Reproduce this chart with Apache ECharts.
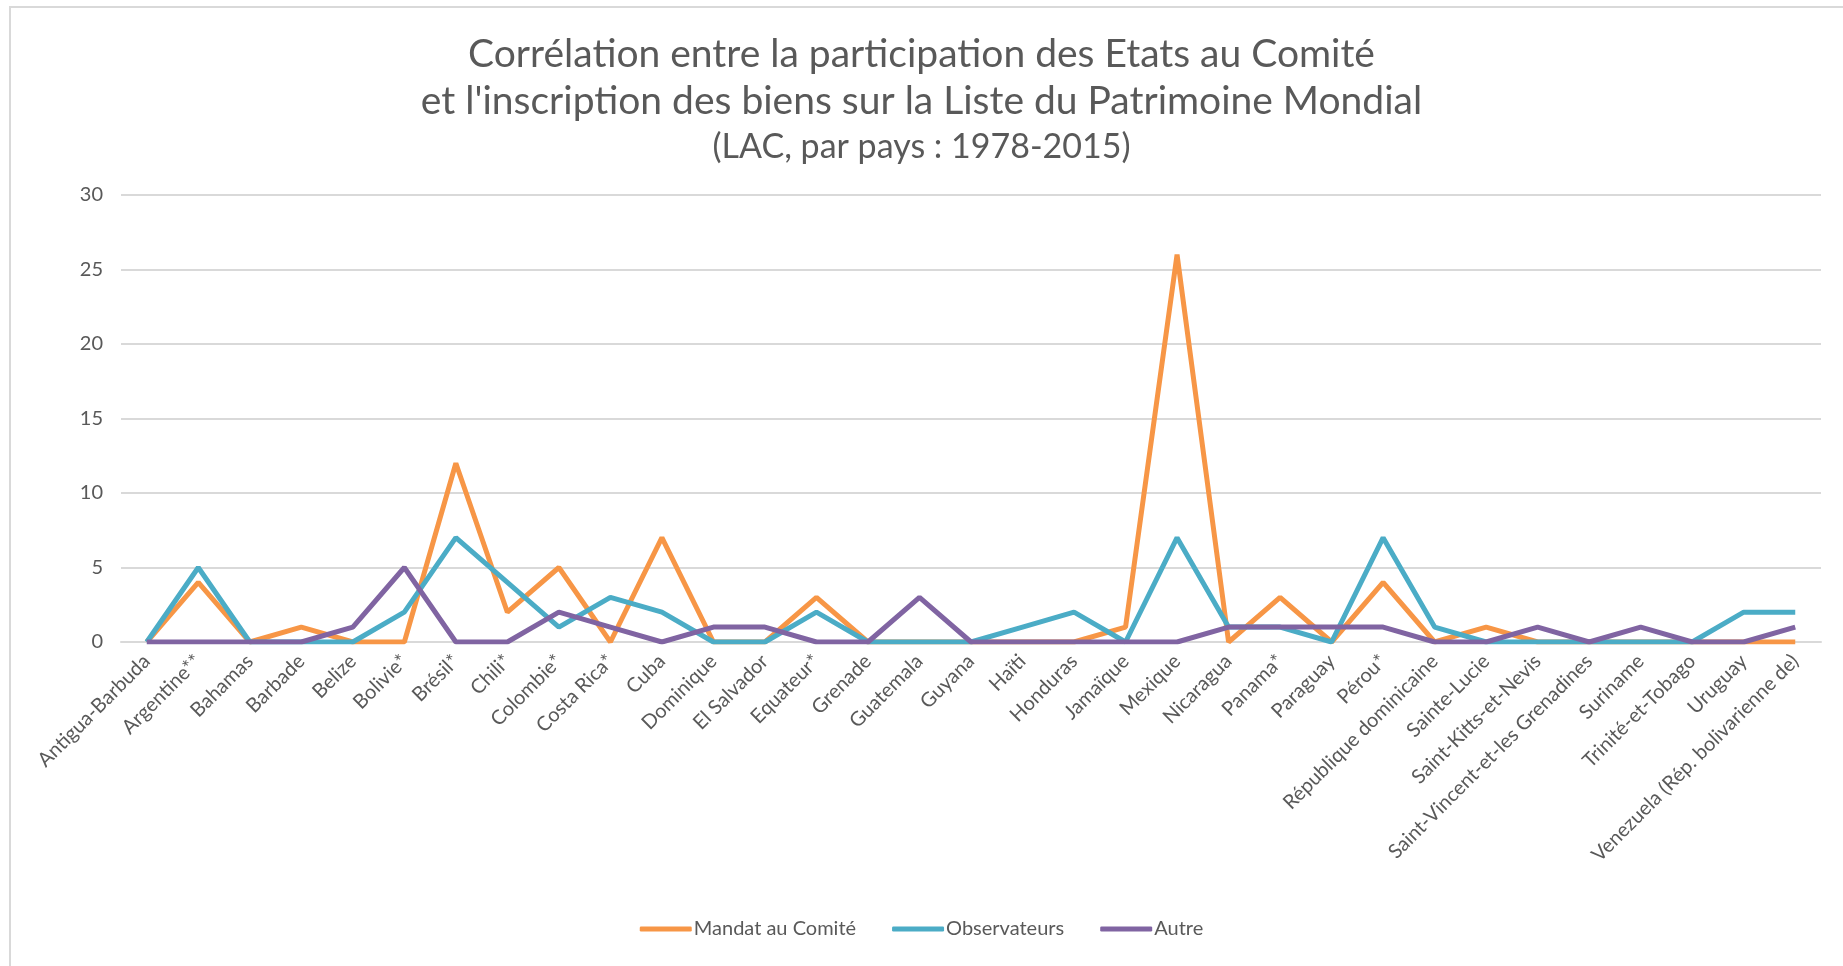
<!DOCTYPE html>
<html>
<head>
<meta charset="utf-8">
<script src="https://cdn.jsdelivr.net/npm/echarts@6/dist/echarts.min.js"></script>
<style>
  html, body { margin: 0; padding: 0; background: #fff; }
  #box { width: 1843px; height: 966px; }
</style>
</head>
<body>
<div id="box"></div>
<script>
// données
var pays = ['Antigua-Barbuda', 'Argentine**', 'Bahamas', 'Barbade', 'Belize', 'Bolivie*', 'Brésil*', 'Chili*',
    'Colombie*', 'Costa Rica*', 'Cuba', 'Dominique', 'El Salvador', 'Equateur*', 'Grenade', 'Guatemala',
    'Guyana', 'Haïti', 'Honduras', 'Jamaïque', 'Mexique', 'Nicaragua', 'Panama*', 'Paraguay', 'Pérou*',
    'République dominicaine', 'Sainte-Lucie', 'Saint-Kitts-et-Nevis', 'Saint-Vincent-et-les Grenadines',
    'Suriname', 'Trinité-et-Tobago', 'Uruguay', 'Venezuela (Rép. bolivarienne de)'];

var mandat = [0, 4, 0, 1, 0, 0, 12, 2, 5, 0, 7, 0, 0, 3, 0, 0, 0, 0, 0, 1, 26, 0, 3, 0, 4, 0, 1, 0, 0, 0, 0, 0, 0];
var observateurs = [0, 5, 0, 0, 0, 2, 7, 4, 1, 3, 2, 0, 0, 2, 0, 0, 0, 1, 2, 0, 7, 1, 1, 0, 7, 1, 0, 0, 0, 0, 0, 2, 2];
var autre = [0, 0, 0, 0, 1, 5, 0, 0, 2, 1, 0, 1, 1, 0, 0, 3, 0, 0, 0, 0, 0, 1, 1, 1, 1, 0, 0, 1, 0, 1, 0, 0, 1];

var yTicks = [0, 5, 10, 15, 20, 25, 30];

var police = 'Lato, "Open Sans", sans-serif';
var gris = '#595959';

var myChart = echarts.init(document.getElementById('box'));

function serie(nom, data, couleur) {
    return {
        name: nom,
        type: 'line',
        data: data,
        symbol: 'none',
        lineStyle: { width: 5, color: couleur },
        itemStyle: { color: couleur }
    };
}

function ligneTitre(texte, haut, taille) {
    return {
        text: texte,
        left: 'center',
        top: haut,
        textStyle: { fontFamily: police, fontWeight: 'normal', fontSize: taille, color: gris }
    };
}

var option = {
    animation: false,
    // cadre gris autour du graphique
    graphic: [{
        type: 'rect',
        shape: { x: 10, y: 7, width: 1850, height: 1000 },
        style: { fill: 'none', stroke: '#d9d9d9', lineWidth: 2 },
        silent: true
    }],
    title: [
        ligneTitre('Corrélation entre la participation des Etats au Comité', 30, 39),
        ligneTitre('et l\'inscription des biens sur la Liste du Patrimoine Mondial', 77, 39),
        ligneTitre('(LAC, par pays : 1978-2015)', 125, 34)
    ],
    legend: {
        bottom: 22,
        left: 'center',
        icon: 'roundRect',
        itemWidth: 52,
        itemHeight: 5,
        itemGap: 36,
        textStyle: { fontFamily: police, fontSize: 20, color: gris, padding: [0, 0, 0, -3] },
        data: ['Mandat au Comité', 'Observateurs', 'Autre']
    },
    grid: {
        left: 121,
        right: 22,
        top: 195,
        bottom: 324,
        containLabel: false
    },
    xAxis: {
        type: 'category',
        data: pays,
        boundaryGap: true,
        axisTick: { show: false },
        axisLine: { lineStyle: { color: '#d9d9d9', width: 2 } },
        axisLabel: {
            rotate: 45,
            interval: 0,
            margin: 16,
            fontFamily: police,
            fontSize: 20,
            color: gris
        }
    },
    yAxis: {
        type: 'value',
        min: yTicks[0],
        max: yTicks[yTicks.length - 1],
        interval: 5,
        axisLine: { show: false },
        axisTick: { show: false },
        splitLine: { lineStyle: { color: '#d9d9d9', width: 2 } },
        axisLabel: { margin: 18, fontFamily: police, fontSize: 20, color: gris }
    },
    series: [
        serie('Mandat au Comité', mandat, '#F79646'),
        serie('Observateurs', observateurs, '#4BACC6'),
        serie('Autre', autre, '#8064A2')
    ]
};

myChart.setOption(option);
</script>
</body>
</html>
